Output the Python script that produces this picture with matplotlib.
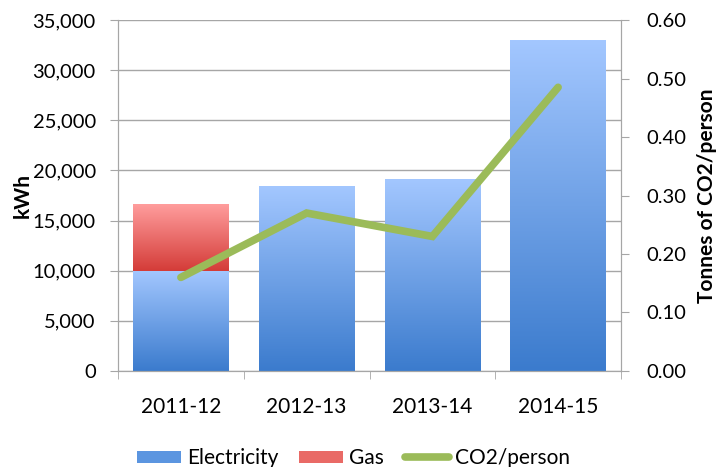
import matplotlib
matplotlib.use("Agg")
import matplotlib.pyplot as plt
import numpy as np
from matplotlib.patches import Patch
from matplotlib.lines import Line2D
from matplotlib.colors import LinearSegmentedColormap
from matplotlib.ticker import FuncFormatter

years = ["2011-12", "2012-13", "2013-14", "2014-15"]
electricity = [10000, 18400, 19100, 33000]
gas = [6600, 0, 0, 0]
co2_per_person = [0.16, 0.27, 0.23, 0.485]

plt.rcParams["font.family"] = ["Lato", "DejaVu Sans"]

blue_cmap = LinearSegmentedColormap.from_list("blue", ["#3b7bcd", "#a3c7ff"])
red_cmap = LinearSegmentedColormap.from_list("red", ["#d43c38", "#ff9d9d"])
grey = "#a6a6a6"


def fill_gradient(ax, bars, cmap):
    grad = np.linspace(0, 1, 256).reshape(-1, 1)
    for bar in bars:
        h = bar.get_height()
        if h <= 0:
            continue
        x0, y0 = bar.get_x(), bar.get_y()
        ax.imshow(grad, cmap=cmap, origin="lower", aspect="auto",
                  extent=(x0, x0 + bar.get_width(), y0, y0 + h), zorder=2)
        bar.set_visible(False)


fig = plt.figure(figsize=(7.17, 4.67), dpi=100)
ax = fig.add_axes([0.1646, 0.2056, 0.7015, 0.7515])
x = np.arange(len(years))
w = 0.76

b1 = ax.bar(x, electricity, width=w)
b2 = ax.bar(x, gas, width=w, bottom=electricity)
fill_gradient(ax, b1, blue_cmap)
fill_gradient(ax, b2, red_cmap)

ax.set_xlim(-0.5, 3.5)
ax.set_ylim(0, 35000)
ax.set_yticks(np.arange(0, 35001, 5000))
ax.yaxis.set_major_formatter(FuncFormatter(lambda v, p: f"{int(v):,}"))
ax.set_xticks(x)
ax.set_xticklabels(years)
ax.set_xticks(np.arange(-0.5, 3.6, 1), minor=True)
ax.tick_params(axis="x", which="major", length=0, pad=19, labelsize=15)
ax.tick_params(axis="x", which="minor", length=6, color=grey, direction="out")
ax.tick_params(axis="y", length=6, color=grey, labelsize=14.5, pad=10)
ax.grid(axis="y", color=grey, linewidth=1)
ax.set_axisbelow(True)
ax.set_ylabel("kWh", fontsize=15, fontweight="bold", labelpad=0)
ax.spines["top"].set_visible(False)
for s in ["left", "right", "bottom"]:
    ax.spines[s].set_color(grey)

ax2 = ax.twinx()
ax2.plot(x, co2_per_person, color="#9bbb59", linewidth=5.5,
         solid_capstyle="round", solid_joinstyle="miter")
ax2.set_ylim(0, 0.6)
ax2.set_yticks(np.arange(0, 0.61, 0.1))
ax2.yaxis.set_major_formatter(FuncFormatter(lambda v, p: f"{v:.2f}"))
ax2.tick_params(axis="y", length=6, color=grey, labelsize=14.5, pad=12)
ax2.set_ylabel("Tonnes of CO2/person", fontsize=15, fontweight="bold", labelpad=8)
ax2.spines["top"].set_visible(False)
for s in ["left", "right", "bottom"]:
    ax2.spines[s].set_color(grey)

handles = [
    Patch(facecolor="#5b95e0", edgecolor="none"),
    Patch(facecolor="#e96a66", edgecolor="none"),
    Line2D([0], [0], color="#9bbb59", linewidth=5.5, solid_capstyle="round"),
]
fig.legend(handles, ["Electricity", "Gas", "CO2/person"], loc="center",
           bbox_to_anchor=(0.493, 0.019), ncol=3, frameon=False, fontsize=15,
           handlelength=2.1, handleheight=0.5, handletextpad=0.3,
           columnspacing=1.0)

fig.savefig("out.png", dpi=100)
